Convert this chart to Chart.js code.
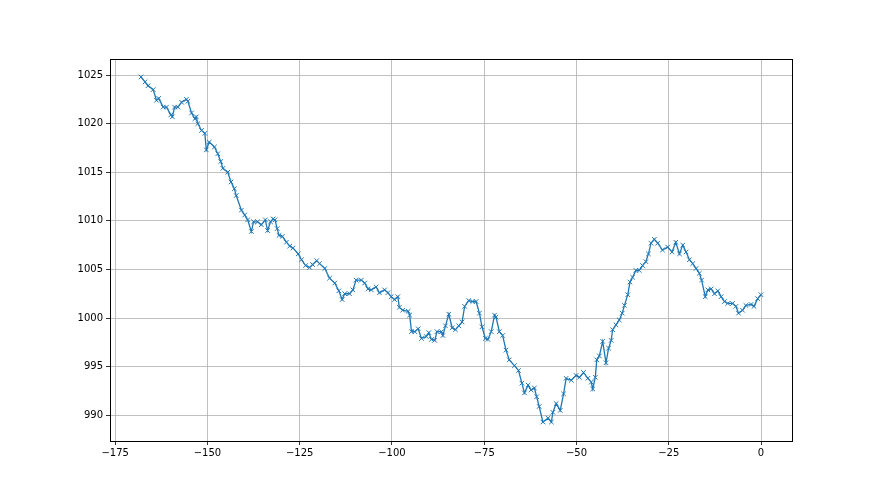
<!DOCTYPE html>
<html>
<head>
<meta charset="utf-8">
<script src="https://cdn.jsdelivr.net/npm/chart.js@4"></script>
<style>
  html, body { margin: 0; padding: 0; background: #fff; }
  #wrap { width: 880px; height: 495px; }
</style>
</head>
<body>
<div id="wrap"><canvas id="pressureChart" width="880" height="495"></canvas></div>
<script>
// hours before now
const hours = [
  -168.0, -166.9, -166.1, -164.7, -163.8, -163.2, -162.0, -161.1, -159.9, -159.5,
  -158.9, -158.0, -157.0, -155.7, -155.3, -154.3, -153.4, -153.0, -152.6, -151.6,
  -150.7, -150.3, -149.5, -148.1, -147.2, -146.4, -145.8, -144.5, -143.6, -142.7,
  -142.2, -140.8, -139.9, -139.1, -138.1, -137.5, -136.4, -135.4, -134.3, -133.7,
  -132.9, -132.2, -131.7, -131.1, -130.6, -129.7, -128.6, -127.7, -126.8, -125.4,
  -124.5, -123.4, -122.3, -121.5, -120.4, -119.6, -118.2, -116.9, -115.5, -114.4,
  -113.5, -112.8, -111.5, -110.6, -109.7, -108.3, -107.4, -106.5, -105.6, -104.3,
  -103.4, -102.0, -101.1, -100.2, -99.3, -98.4, -98.0, -97.1, -95.6, -95.2,
  -94.7, -93.8, -92.9, -92.0, -90.7, -90.0, -89.3, -88.4, -87.8, -86.6,
  -86.2, -85.5, -84.6, -83.7, -82.8, -81.9, -81.0, -80.3, -79.2, -78.1,
  -77.2, -76.3, -75.6, -74.7, -74.0, -73.1, -72.2, -71.8, -70.9, -70.0,
  -69.1, -68.2, -66.8, -65.7, -64.8, -64.1, -63.1, -62.3, -61.4, -60.8,
  -60.1, -59.1, -57.7, -56.8, -56.4, -55.5, -54.4, -53.5, -52.8, -51.4,
  -50.1, -49.2, -48.1, -46.9, -46.0, -45.6, -44.9, -44.5, -43.8, -42.9,
  -42.0, -41.3, -40.6, -40.2, -39.3, -38.4, -37.6, -37.0, -36.1, -35.5,
  -34.8, -33.9, -33.0, -32.1, -31.2, -30.5, -29.8, -28.9, -28.0, -26.7,
  -25.3, -24.1, -23.1, -22.1, -21.2, -20.3, -19.4, -18.5, -17.6, -16.7,
  -16.1, -15.1, -14.4, -13.5, -12.6, -11.7, -10.8, -9.9, -9.0, -7.7,
  -6.8, -6.1, -5.0, -4.1, -2.7, -1.9, -0.9, 0
];

// pressure in hPa
const pressure = [
  1024.8, 1024.3, 1023.9, 1023.5, 1022.4, 1022.6, 1021.7, 1021.7, 1020.9, 1020.7,
  1021.7, 1021.7, 1022.2, 1022.5, 1022.3, 1021.1, 1020.5, 1020.7, 1020.0, 1019.3,
  1019.0, 1017.3, 1018.1, 1017.6, 1016.9, 1016.1, 1015.4, 1015.0, 1014.0, 1013.3,
  1012.6, 1011.1, 1010.6, 1010.1, 1008.9, 1009.9, 1009.9, 1009.6, 1010.1, 1009.0,
  1009.9, 1010.2, 1010.1, 1009.2, 1008.5, 1008.4, 1007.8, 1007.4, 1007.2, 1006.6,
  1006.0, 1005.4, 1005.2, 1005.5, 1005.9, 1005.6, 1005.1, 1004.1, 1003.6, 1002.8,
  1001.9, 1002.5, 1002.5, 1002.9, 1003.9, 1003.9, 1003.6, 1003.0, 1002.9, 1003.2,
  1002.6, 1002.9, 1002.6, 1002.2, 1001.9, 1002.2, 1001.1, 1000.8, 1000.7, 1000.3,
  998.6, 998.6, 998.9, 997.9, 998.1, 998.5, 997.8, 997.7, 998.6, 998.6,
  998.2, 999.2, 1000.4, 999.0, 998.8, 999.2, 999.6, 1001.2, 1001.8, 1001.7,
  1001.7, 1000.5, 999.1, 997.9, 997.8, 998.6, 1000.3, 1000.1, 998.6, 998.2,
  996.7, 995.7, 995.1, 994.6, 993.3, 992.3, 993.1, 992.6, 992.8, 991.9,
  990.9, 989.3, 989.7, 989.3, 990.3, 991.2, 990.5, 992.2, 993.8, 993.6,
  994.1, 993.9, 994.4, 993.8, 993.4, 992.7, 993.9, 995.7, 996.1, 997.6,
  995.4, 996.9, 997.7, 998.8, 999.3, 999.8, 1000.5, 1001.3, 1002.4, 1003.7,
  1004.2, 1004.9, 1004.9, 1005.4, 1005.8, 1006.6, 1007.7, 1008.1, 1007.7, 1007.0,
  1007.3, 1006.8, 1007.8, 1006.6, 1007.5, 1006.8, 1006.0, 1005.6, 1005.1, 1004.6,
  1003.9, 1002.2, 1002.9, 1003.0, 1002.5, 1002.8, 1002.2, 1001.7, 1001.5, 1001.5,
  1001.2, 1000.5, 1000.8, 1001.3, 1001.4, 1001.2, 1002.0, 1002.4
];

const xTicks = [-175, -150, -125, -100, -75, -50, -25, 0];
const yTicks = [990, 995, 1000, 1005, 1010, 1015, 1020, 1025];

const points = hours.map((h, i) => ({ x: h, y: pressure[i] }));

// matplotlib-like frame round the plot area
const frame = {
  id: 'frame',
  afterDraw(chart) {
    const a = chart.chartArea;
    const c = chart.ctx;
    c.save();
    c.strokeStyle = '#000';
    c.lineWidth = 1;
    c.strokeRect(Math.round(a.left) + 0.5, Math.round(a.top) + 0.5,
      Math.round(a.right - a.left), Math.round(a.bottom - a.top));
    c.restore();
  }
};

const minus = v => String(v).replace('-', '\u2212');

const ctx = document.getElementById('pressureChart').getContext('2d');
const pressureChart = new Chart(ctx, {
  type: 'line',
  data: {
    datasets: [{
      data: points,
      borderColor: '#1f77b4',
      backgroundColor: '#1f77b4',
      borderWidth: 1.3,
      pointStyle: 'crossRot',
      pointRadius: 3.2,
      pointBorderWidth: 1,
      pointBorderColor: '#1f77b4',
      fill: false,
      tension: 0
    }]
  },
  options: {
    responsive: false,
    animation: false,
    events: [],
    layout: { padding: { left: 58, right: 88, top: 59, bottom: 34 } },
    plugins: {
      legend: { display: false },
      tooltip: { enabled: false }
    },
    scales: {
      x: {
        type: 'linear',
        min: -176.4,
        max: 8.4,
        afterBuildTicks: s => { s.ticks = xTicks.map(v => ({ value: v })); },
        afterFit: s => { s.height = 20; },
        border: { display: false },
        grid: { color: '#b0b0b0', lineWidth: 0.8, tickColor: '#000', tickLength: 4 },
        ticks: {
          color: '#000',
          font: { family: 'DejaVu Sans', size: 10 },
          padding: 2,
          maxRotation: 0,
          callback: v => minus(v)
        }
      },
      y: {
        type: 'linear',
        min: 987.35,
        max: 1026.65,
        afterBuildTicks: s => { s.ticks = yTicks.map(v => ({ value: v })); },
        afterFit: s => { s.width = 52; },
        border: { display: false },
        grid: { color: '#b0b0b0', lineWidth: 0.8, tickColor: '#000', tickLength: 4 },
        ticks: {
          color: '#000',
          font: { family: 'DejaVu Sans', size: 10 },
          padding: 3,
          callback: v => String(v)
        }
      }
    }
  },
  plugins: [frame]
});
</script>
</body>
</html>
